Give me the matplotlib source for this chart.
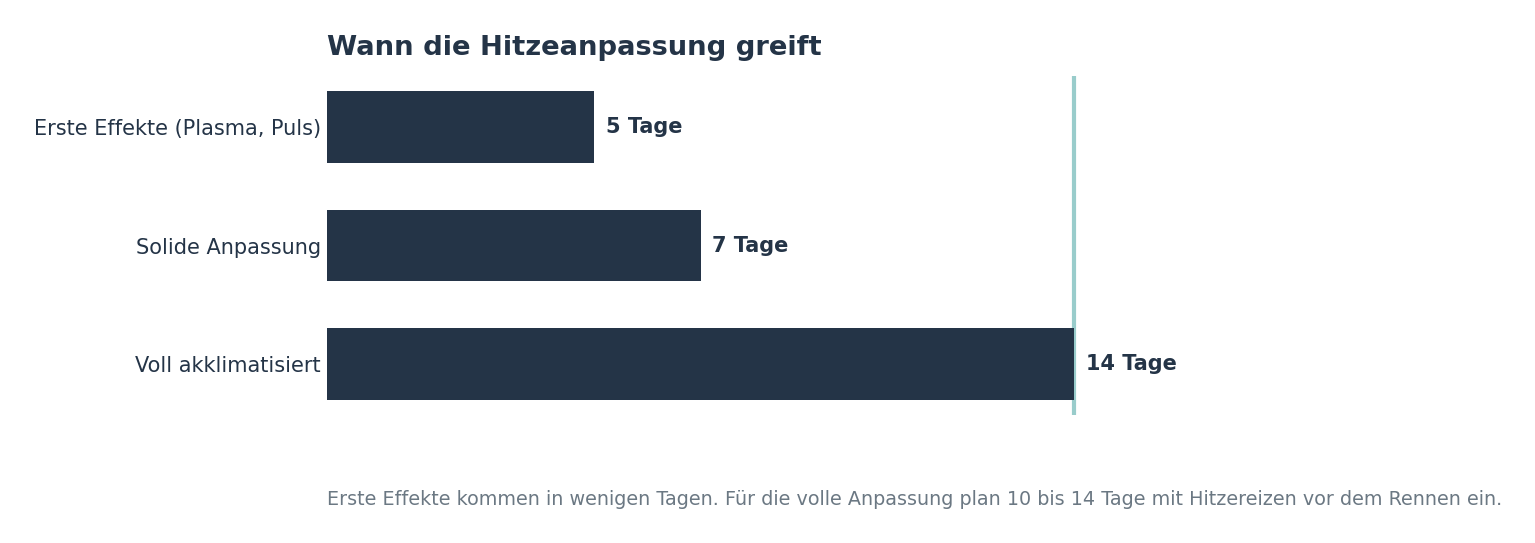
import matplotlib
matplotlib.use("Agg")
import matplotlib.pyplot as plt

categories = ["Erste Effekte (Plasma, Puls)", "Solide Anpassung", "Voll akklimatisiert"]
days = [5, 7, 14]
value_labels = ["5 Tage", "7 Tage", "14 Tage"]
marker_day = 14

title = "Wann die Hitzeanpassung greift"
footnote = ("Erste Effekte kommen in wenigen Tagen. Für die volle Anpassung plan "
            "10 bis 14 Tage mit Hitzereizen vor dem Rennen ein.")

dark = "#243447"
teal = "#99cccb"
grey = "#6b7883"

fig = plt.figure(figsize=(15.35, 5.43), dpi=100)
ax = fig.add_axes([327/1535, 1-415/543, (1458-327)/1535, (415-76)/543])

ypos = list(range(len(categories)))
ax.barh(ypos, days, height=0.6, color=dark, zorder=3)
ax.axvline(marker_day, color=teal, lw=3, zorder=2)
ax.set_xlim(0, (1458-327)/53.36)
ax.invert_yaxis()
ax.set_yticks(ypos)
ax.set_yticklabels(categories, fontsize=15, color=dark)
ax.tick_params(axis="y", length=0, pad=4.5)
ax.set_xticks([])
for s in ax.spines.values():
    s.set_visible(False)

for y, v, lab in zip(ypos, days, value_labels):
    ax.text(v + 0.22, y, lab, va="center", ha="left", fontsize=15,
            fontweight="bold", color=dark)

fig.text(327/1535, 1-48/543, title, fontsize=19.7, fontweight="bold",
         color=dark, ha="left", va="center")
fig.text(327/1535, 1-499.5/543, footnote, fontsize=13.8, color=grey,
         ha="left", va="center")

fig.savefig("out.png", dpi=100, facecolor="white")
